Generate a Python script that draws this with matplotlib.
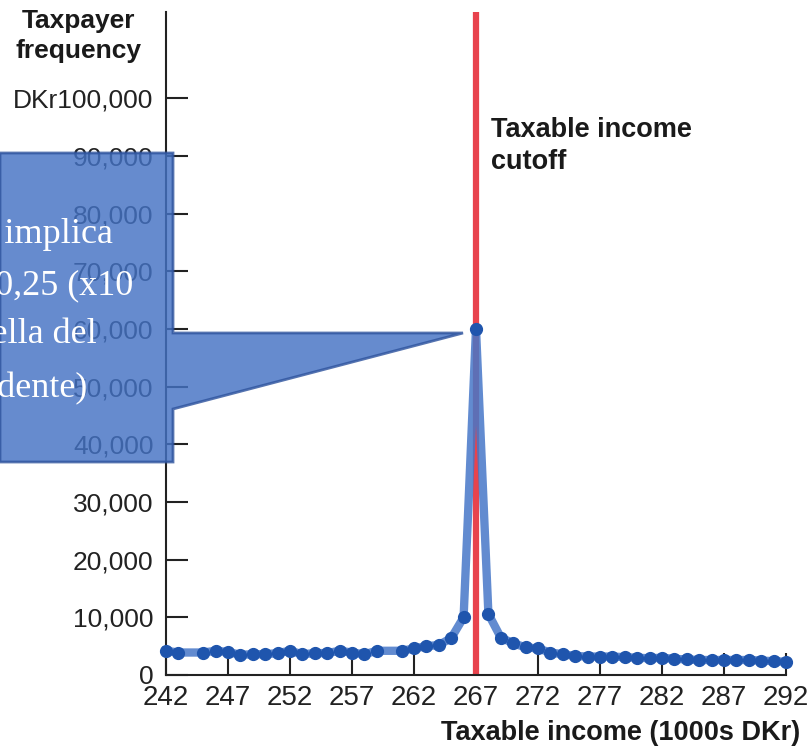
import matplotlib.pyplot as plt
from matplotlib.patches import Polygon
import numpy as np

# taxable income (1000s DKr) and number of taxpayers
income = [242, 243, 245, 246, 247, 248, 249, 250, 251, 252, 253, 254, 255, 256,
          257, 258, 259, 261, 262, 263, 264, 265, 266, 267, 268, 269, 270, 271,
          272, 273, 274, 275, 276, 277, 278, 279, 280, 281, 282, 283, 284, 285,
          286, 287, 288, 289, 290, 291, 292]
freq = [4200, 3900, 3900, 4200, 4000, 3500, 3600, 3600, 3800, 4200, 3600, 3800, 3800, 4200,
        3900, 3600, 4200, 4200, 4600, 5000, 5200, 6400, 10000, 60000, 10600, 6500, 5500, 4800,
        4600, 3900, 3600, 3300, 3200, 3200, 3200, 3100, 3000, 2900, 3000, 2800, 2700, 2600,
        2600, 2600, 2600, 2600, 2500, 2400, 2300]
cutoff = 267

xticks = list(range(242, 293, 5))
yticks = [0, 10000, 20000, 30000, 40000, 50000, 60000, 70000, 80000, 90000, 100000]
ytick_labels = ['0', '10,000', '20,000', '30,000', '40,000', '50,000',
                '60,000', '70,000', '80,000', '90,000', 'DKr100,000']

callout_lines = ["Il picco implica", "un'elasticità di 0,25 (x10",
                 "volte quella del", "precedente)"]

plt.rcParams['font.family'] = ['Liberation Sans', 'DejaVu Sans']

W, H = 810, 753
fig = plt.figure(figsize=(W / 100, H / 100), dpi=100)
ax = fig.add_axes([166 / W, 1 - 675 / H, (786 - 166) / W, (675 - 12) / H])

ax.axvline(cutoff, color='#e8434d', lw=4.5, zorder=2)
ax.plot(income, freq, color='#4677c8', lw=6, alpha=0.85, zorder=3,
        solid_joinstyle='round', clip_on=False)
ax.plot(income, freq, 'o', color='#1f55ad', ms=8.5, zorder=4, clip_on=False)

ax.set_xlim(242, 292)
ax.set_ylim(0, 115000)
ax.set_xticks(xticks)
ax.set_yticks(yticks)
ax.set_yticklabels(ytick_labels)
ax.spines['top'].set_visible(False)
ax.spines['right'].set_visible(False)
for s in ['left', 'bottom']:
    ax.spines[s].set_linewidth(1.5)
    ax.spines[s].set_color('#222222')
ax.tick_params(direction='in', length=16, width=1.5, color='#222222',
               labelcolor='#222222')
ax.tick_params(axis='y', pad=9, labelsize=19)
ax.tick_params(axis='x', pad=7, labelsize=20)

bold = dict(weight='bold', color='#1a1a1a')
fig.text(78 / W, 1 - 36 / H, 'Taxpayer\nfrequency', ha='center', va='center',
         fontsize=19, linespacing=1.3, **bold)
fig.text(800 / W, 1 - 733 / H, 'Taxable income (1000s DKr)', ha='right', va='center',
         fontsize=19.5, **bold)
ax.text(cutoff + 1.2, 91700, 'Taxable income\ncutoff', ha='left', va='center',
        fontsize=19.5, linespacing=1.3, **bold)

# speech-bubble callout (partly outside the figure on the left)
pts = [(0, 153), (173, 153), (173, 333), (463, 333), (173, 409), (173, 462), (0, 462)]
poly = Polygon([(x / W, 1 - y / H) for x, y in pts], closed=True,
               transform=fig.transFigure, facecolor='#4472c4', alpha=0.82,
               edgecolor='#2f549e', lw=2, zorder=10)
fig.add_artist(poly)

ends = [113, 133, 97, 88]
bases = [243, 295, 343, 397]
for line, xe, yb in zip(callout_lines, ends, bases):
    fig.text(xe / W, 1 - yb / H, line, ha='right', va='baseline', color='white',
             fontsize=26, family=['Liberation Serif', 'DejaVu Serif'], zorder=11)

fig.savefig('out.png', dpi=100)
